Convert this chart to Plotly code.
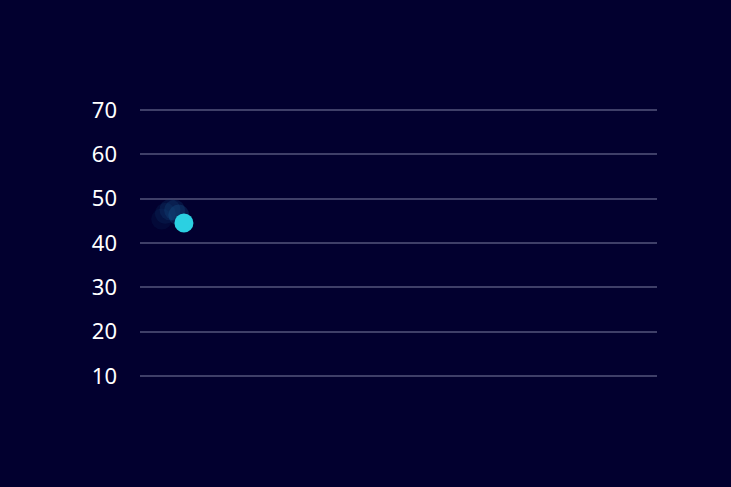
import plotly.graph_objects as go

# data
y_ticks = [10, 20, 30, 40, 50, 60, 70]
point_x = [8.5]
point_y = [44.5]
trail_x = [4.2, 4.9, 5.8, 6.7, 7.5]
trail_y = [45.4, 46.7, 47.5, 47.4, 46.3]
trail_opacity = [0.09, 0.12, 0.16, 0.20, 0.26]

bg = "#02002f"

fig = go.Figure()
for tx, ty, op in zip(trail_x, trail_y, trail_opacity):
    fig.add_trace(go.Scatter(
        x=[tx], y=[ty], mode="markers",
        marker=dict(size=21, color="#1b5f96", opacity=op, line=dict(width=0)),
        hoverinfo="skip", showlegend=False))
fig.add_trace(go.Scatter(
    x=point_x, y=point_y, mode="markers",
    marker=dict(size=19, color="#2bd0e2", line=dict(width=0)),
    showlegend=False))

fig.update_layout(
    width=731, height=487,
    paper_bgcolor=bg, plot_bgcolor=bg,
    margin=dict(l=140, r=74, t=100, b=101),
    font=dict(family="Noto Sans, sans-serif", color="#ffffff", size=22),
    xaxis=dict(range=[0, 100], visible=False, showgrid=False, zeroline=False),
    yaxis=dict(range=[7.74, 72.26], tickvals=y_ticks, ticktext=[str(v) for v in y_ticks],
               showgrid=True, gridcolor="#3f3f68", gridwidth=1.5, zeroline=False,
               showline=False, ticks="", ticklabelstandoff=22,
               tickfont=dict(size=22, color="#ffffff")),
)
fig.write_html("out.html")
